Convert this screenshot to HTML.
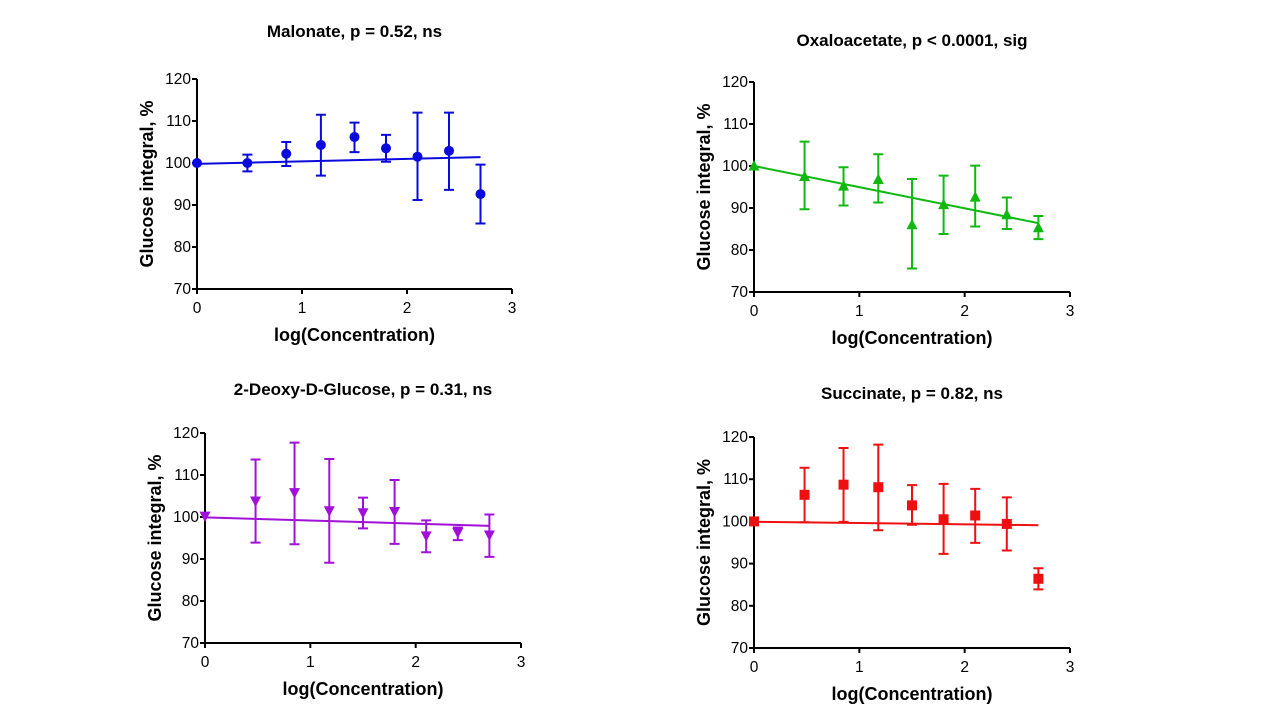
<!DOCTYPE html>
<html><head><meta charset="utf-8"><style>
body{margin:0;background:#fff;width:1280px;height:720px;overflow:hidden}
svg{font-family:"Liberation Sans",Arial,sans-serif}
</style></head><body>
<svg id="chart" width="1280" height="720" xmlns="http://www.w3.org/2000/svg"></svg>
<script>
const xVals=[0,0.48,0.85,1.18,1.5,1.8,2.1,2.4,2.7];
const xTicks=[0,1,2,3];
const yTicks=[70,80,90,100,110,120];
const malonateMean=[100,100,102.2,104.3,106.2,103.5,101.5,102.9,92.6];
const malonateHi=[100,102,105,111.5,109.6,106.7,112,112,99.6];
const malonateLo=[100,98,99.3,97,102.6,100.3,91.2,93.6,85.6];
const malonateFit=[99.8,101.4];
const oxaloMean=[100,97.5,95.2,96.8,86,90.8,92.6,88.4,85.3];
const oxaloHi=[100,105.8,99.7,102.8,96.9,97.7,100.1,92.5,88.1];
const oxaloLo=[100,89.7,90.6,91.3,75.6,83.8,85.6,85,82.6];
const oxaloFit=[100,86.4];
const deoxyMean=[100.2,103.8,105.8,101.5,101,101.3,95.5,96.3,95.7];
const deoxyHi=[100.2,113.7,117.7,113.8,104.6,108.8,99.2,97.5,100.6];
const deoxyLo=[100.2,93.9,93.5,89.1,97.3,93.6,91.6,94.5,90.5];
const deoxyFit=[99.9,97.9];
const succMean=[100,106.3,108.7,108.1,103.8,100.5,101.4,99.4,86.4];
const succHi=[100,112.7,117.4,118.2,108.6,108.9,107.7,105.7,88.9];
const succLo=[100,99.8,99.9,97.9,99.2,92.3,94.9,93.1,83.9];
const succFit=[99.9,99.1];

const NS="http://www.w3.org/2000/svg";
const svg=document.getElementById('chart');
function mk(tag,attrs,parent,text){const e=document.createElementNS(NS,tag);for(const k in attrs)e.setAttribute(k,attrs[k]);if(text!==undefined)e.textContent=text;parent.appendChild(e);return e;}

function panel(p){
  const g=mk('g',{},svg);
  
  
  const sx=v=>p.x0+(v-0)/3*(p.x3-p.x0);
  const sy=v=>p.y70+(v-70)/50*(p.y120-p.y70);
  const t=mk('text',{x:(p.x0+p.x3)/2,y:p.ty,'font-size':17,'font-weight':'bold','text-anchor':'middle'},g,p.title);
  
  
  const ax=mk('path',{d:`M${p.x0},${p.y120}V${p.y70}H${p.x3}`,stroke:'#000','stroke-width':2,fill:'none'},g);
  
  
  yTicks.forEach(v=>{
    mk('line',{x1:p.x0-5,x2:p.x0,y1:sy(v),y2:sy(v),stroke:'#000','stroke-width':2},g);
    const l=mk('text',{x:p.x0-6,y:sy(v)+5,'font-size':15.5,'text-anchor':'end'},g,v);
    
    
  });
  xTicks.forEach(v=>{
    mk('line',{x1:sx(v),x2:sx(v),y1:p.y70,y2:p.y70+5,stroke:'#000','stroke-width':2},g);
    const l=mk('text',{x:sx(v),y:p.y70+24,'font-size':15.5,'text-anchor':'middle'},g,v);
    
    
  });
  const xt=mk('text',{x:sx(1.5),y:p.y70+52,'font-size':18,'font-weight':'bold','text-anchor':'middle'},g,'log(Concentration)');
  
  
  const yc=(p.y70+p.y120)/2, yx=p.x0-44;
  const yt=mk('text',{x:yx,y:yc,'font-size':18,'font-weight':'bold','text-anchor':'middle',transform:`rotate(-90 ${yx} ${yc})`},g,'Glucose integral, %');
  
  
  const fit=mk('line',{x1:sx(0),y1:sy(p.fit[0]),x2:sx(2.7),y2:sy(p.fit[1]),stroke:p.c,'stroke-width':2},g);
  
  
  xVals.forEach((x,i)=>{
    const X=sx(x);
    if(p.hi[i]!==p.lo[i]){
      const eb=mk('path',{d:`M${X},${sy(p.hi[i])}V${sy(p.lo[i])}M${X-5},${sy(p.hi[i])}h10M${X-5},${sy(p.lo[i])}h10`,stroke:p.c,'stroke-width':2,fill:'none'},g);
      
      
    }
    const Y=sy(p.mean[i]);let m;
    if(p.shape==='circle')m=mk('circle',{cx:X,cy:Y,r:5,fill:p.c},g);
    else if(p.shape==='tri')m=mk('polygon',{points:`${X},${Y-6} ${X-5.5},${Y+4.5} ${X+5.5},${Y+4.5}`,fill:p.c},g);
    else if(p.shape==='itri')m=mk('polygon',{points:`${X},${Y+6} ${X-5.5},${Y-4.5} ${X+5.5},${Y-4.5}`,fill:p.c},g);
    else m=mk('rect',{x:X-5,y:Y-5,width:10,height:10,fill:p.c},g);
    
    
  });
}
panel({name:'malonate',title:'Malonate, p = 0.52, ns',x0:197,x3:512,y120:79,y70:289,ty:37,c:'#0a0adc',shape:'circle',mean:malonateMean,hi:malonateHi,lo:malonateLo,fit:malonateFit});
panel({name:'oxaloacetate',title:'Oxaloacetate, p <  0.0001, sig',x0:754,x3:1070,y120:82,y70:292,ty:46,c:'#10b810',shape:'tri',mean:oxaloMean,hi:oxaloHi,lo:oxaloLo,fit:oxaloFit});
panel({name:'deoxyglucose',title:'2-Deoxy-D-Glucose, p = 0.31, ns',x0:205,x3:521,y120:433,y70:643,ty:395,c:'#a010d8',shape:'itri',mean:deoxyMean,hi:deoxyHi,lo:deoxyLo,fit:deoxyFit});
panel({name:'succinate',title:'Succinate,  p = 0.82, ns',x0:754,x3:1070,y120:437,y70:648,ty:399,c:'#ee1010',shape:'square',mean:succMean,hi:succHi,lo:succLo,fit:succFit});
</script>
</body></html>
